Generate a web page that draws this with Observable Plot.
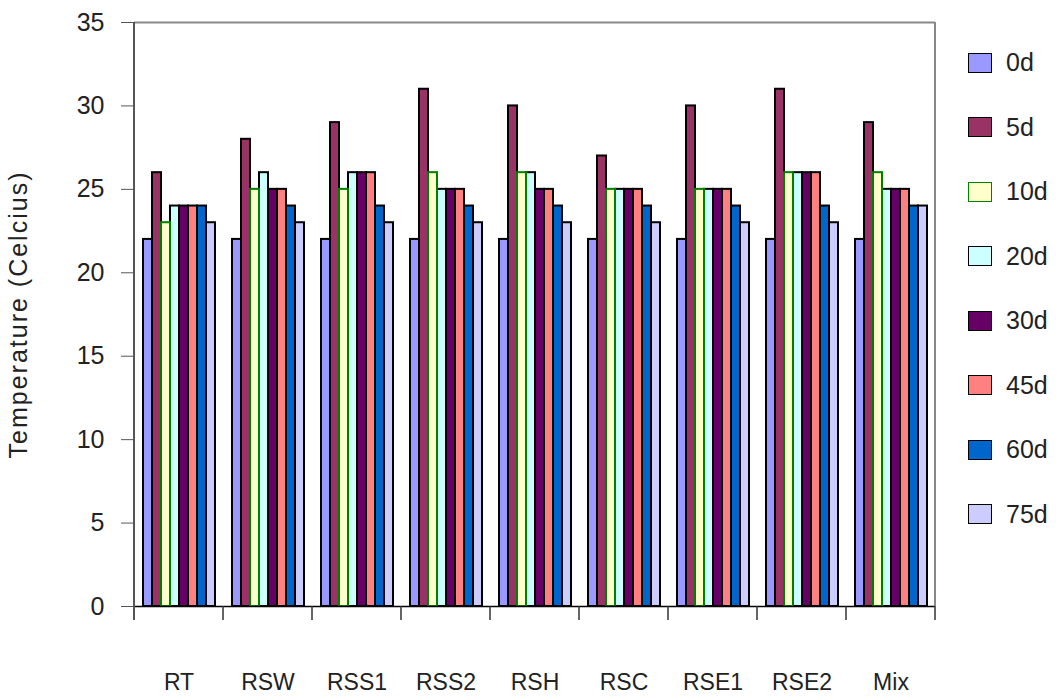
<!DOCTYPE html>
<html>
<head>
<meta charset="utf-8">
<script src="https://cdn.jsdelivr.net/npm/d3@7"></script>
<script src="https://cdn.jsdelivr.net/npm/@observablehq/plot@0.6"></script>
<style>
  html, body { margin: 0; padding: 0; background: #fff; }
  #wrap { position: relative; width: 1056px; height: 696px; font-family: "Liberation Sans", Arial, sans-serif; }
  #legend { position: absolute; left: 968px; top: 52px; }
  .item { display: flex; align-items: center; height: 21px; margin-bottom: 43.5px; }
  .sw { width: 22px; height: 18px; border: 1.6px solid #000; }
  .lab { margin-left: 14px; font-size: 25px; color: #222; }
</style>
</head>
<body>
<div id="wrap"><div id="chart"></div><div id="legend"></div></div>
<script>
const categories = ["RT", "RSW", "RSS1", "RSS2", "RSH", "RSC", "RSE1", "RSE2", "Mix"];
const series = ["0d", "5d", "10d", "20d", "30d", "45d", "60d", "75d"];
const colors = ["#9999FF", "#993366", "#FFFFCC", "#CCFFFF", "#660066", "#FF8080", "#0066CC", "#CCCCFF"];
const d0  = [22, 22, 22, 22, 22, 22, 22, 22, 22];
const d5  = [26, 28, 29, 31, 30, 27, 30, 31, 29];
const d10 = [23, 25, 25, 26, 26, 25, 25, 26, 26];
const d20 = [24, 26, 26, 25, 26, 25, 25, 26, 25];
const d30 = [24, 25, 26, 25, 25, 25, 25, 26, 25];
const d45 = [24, 25, 26, 25, 25, 25, 25, 26, 25];
const d60 = [24, 24, 24, 24, 24, 24, 24, 24, 24];
const d75 = [23, 23, 23, 23, 23, 23, 23, 23, 24];
const yTicks = [0, 5, 10, 15, 20, 25, 30, 35];

const seriesValues = [d0, d5, d10, d20, d30, d45, d60, d75];
const data = [];
categories.forEach((c, i) => series.forEach((s, j) => data.push({cat: c, series: s, value: seriesValues[j][i]})));

const font = "'Liberation Sans', Arial, sans-serif";
const chart = Plot.plot({
  width: 950,
  height: 696,
  marginLeft: 133,
  marginRight: 14,
  marginTop: 22,
  marginBottom: 90,
  style: {fontFamily: font, fontSize: "25px", color: "#222", background: "#fff"},
  fx: {domain: categories, padding: 0, label: null},
  x: {domain: series, paddingInner: 0, paddingOuter: 0.65, axis: null},
  y: {domain: [0, 35]},
  color: {domain: series, range: colors},
  marks: [
    Plot.barY(data.filter(d => d.series !== "10d"), {fx: "cat", x: "series", y: "value", fill: "series", stroke: "#000", strokeWidth: 2, inset: 0}),
    Plot.barY(data.filter(d => d.series === "10d"), {fx: "cat", x: "series", y: "value", fill: "series", stroke: "#008000", strokeWidth: 2, inset: 0}),
    Plot.ruleY([0], {stroke: "#000", strokeWidth: 1.5}),
    Plot.ruleY([35], {stroke: "#888", strokeWidth: 2}),
    Plot.axisY({ticks: yTicks, tickSize: 13, tickPadding: 17, fontSize: 25, stroke: "#555",
      label: "Temperature (Celcius)", labelAnchor: "center", labelOffset: 125, labelArrow: "none"}),
    Plot.axisFx({anchor: "bottom", tickSize: 0, tickPadding: 67, fontSize: 23, label: null})
  ]
});
document.getElementById("chart").appendChild(chart);

// y label spacing
d3.select(chart).selectAll('g[aria-label="y-axis label"] text').attr("letter-spacing", 2);

// frame lines and category boundary ticks from the library's scales
const fx = chart.scale("fx");
const ys = chart.scale("y");
const y0 = ys.apply(0), yTop = ys.apply(35);
const lefts = categories.map(c => fx.apply(c));
const right = lefts[lefts.length - 1] + fx.bandwidth;
const g = d3.select(chart).append("g");
g.selectAll("line.b").data(lefts.concat([right])).join("line")
  .attr("x1", d => d).attr("x2", d => d).attr("y1", y0).attr("y2", y0 + 14)
  .attr("stroke", "#333").attr("stroke-width", 1.5);
g.append("line").attr("x1", lefts[0]).attr("x2", lefts[0]).attr("y1", yTop).attr("y2", y0 + 14)
  .attr("stroke", "#555").attr("stroke-width", 2);
g.append("line").attr("x1", right).attr("x2", right).attr("y1", yTop).attr("y2", y0)
  .attr("stroke", "#888").attr("stroke-width", 2);

// legend
const legend = d3.select("#legend");
series.forEach((s, j) => {
  const it = legend.append("div").attr("class", "item");
  it.append("div").attr("class", "sw").style("background", colors[j]).style("border-color", s === "10d" ? "#008000" : "#000");
  it.append("div").attr("class", "lab").text(s);
});
</script>
</body>
</html>
